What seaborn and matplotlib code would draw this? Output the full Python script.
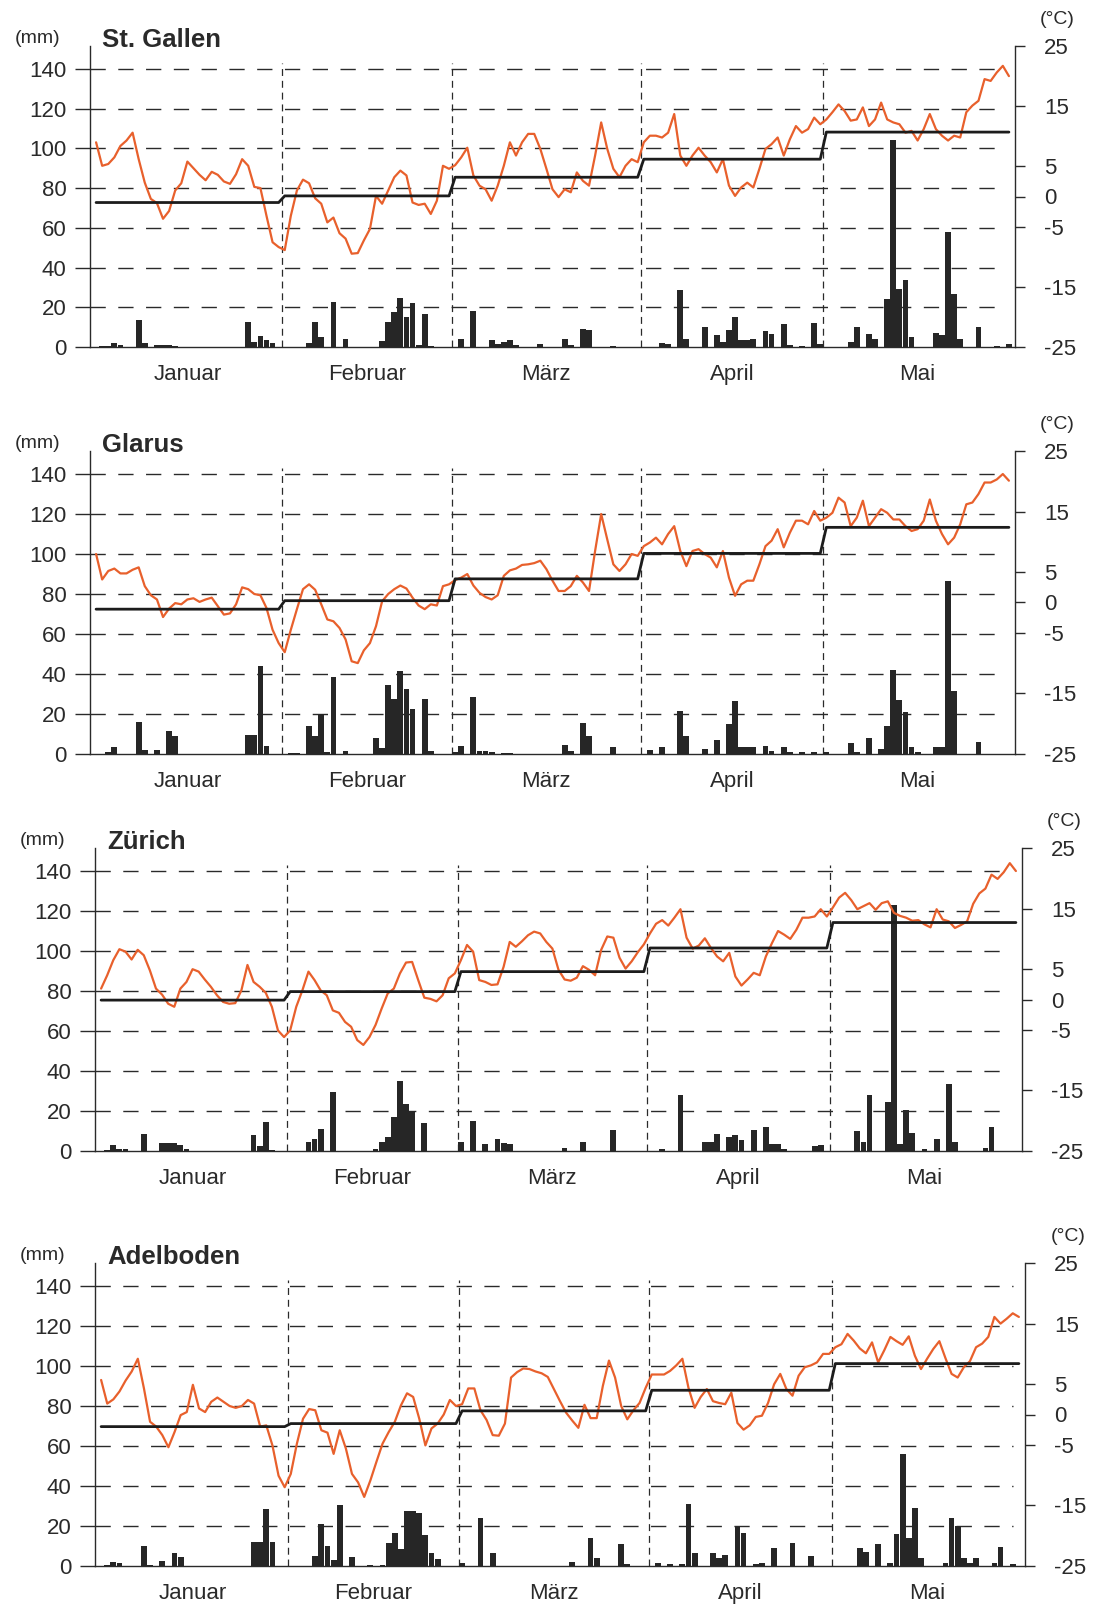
import numpy as np
import matplotlib
matplotlib.use("Agg")
import matplotlib.pyplot as plt
import seaborn as sns

sns.set_style("white")
plt.rcParams["font.family"] = ["Liberation Sans", "DejaVu Sans"]
plt.rcParams["lines.scale_dashes"] = False

months = ["Januar", "Februar", "März", "April", "Mai"]
month_len = [31, 28, 31, 30, 31]
days = np.arange(sum(month_len))

# daily precipitation (mm), 1 Jan - 31 May
prec_stgallen = [0, 0.3, 0.5, 2.0, 0.8, 0, 0, 13.7, 2.0, 0,
                 0.8, 0.8, 0.8, 0.5, 0, 0, 0, 0, 0, 0,
                 0, 0, 0, 0, 0, 12.5, 2.5, 5.5, 3.5, 2.0,
                 0, 0, 0, 0, 0, 2.0, 12.5, 5.0, 0, 22.5,
                 0, 4.0, 0, 0, 0, 0, 0, 3.0, 12.5, 17.5,
                 24.5, 15.0, 22.0, 1.0, 16.7, 0.5, 0, 0, 0, 0,
                 4.0, 0, 18.0, 0, 0, 3.3, 1.5, 2.5, 3.3, 1.0,
                 0, 0, 0, 1.5, 0, 0, 0, 4.0, 1.0, 0,
                 9.0, 8.5, 0, 0, 0, 0.3, 0, 0, 0, 0,
                 0, 0, 0, 2.0, 1.5, 0, 28.5, 4.0, 0, 0,
                 10.0, 0, 6.0, 2.5, 8.5, 15.0, 3.5, 3.5, 4.0, 0,
                 8.0, 6.5, 0, 11.5, 0.8, 0, 0.3, 0, 12.0, 1.5,
                 0, 0, 0, 0, 2.5, 10.3, 0, 6.3, 3.8, 0,
                 24.0, 104.0, 29.0, 33.7, 5.0, 0, 0, 0, 7.0, 6.0,
                 58.0, 26.7, 4.0, 0, 0, 10.0, 0, 0, 0.3, 0,
                 1.3]
prec_glarus = [0, 0, 1.2, 3.7, 0, 0, 0, 16.0, 2.0, 0,
               2.0, 0, 11.7, 9.0, 0, 0, 0, 0, 0, 0,
               0, 0, 0, 0, 0, 9.5, 9.5, 44.0, 4.0, 0,
               0, 0, 0.3, 0.3, 0, 14.0, 9.0, 20.0, 1.0, 38.5,
               0, 1.7, 0, 0, 0, 0, 8.0, 3.0, 34.5, 27.5,
               41.7, 32.3, 22.5, 0, 27.3, 1.7, 0, 0, 0, 1.2,
               4.0, 0, 28.7, 1.7, 1.5, 1.0, 0, 0.5, 0.5, 0,
               0, 0, 0, 0, 0, 0, 0, 4.7, 1.3, 0,
               15.3, 9.2, 0, 0, 0, 3.3, 0, 0, 0, 0,
               0, 2.0, 0, 3.3, 0, 0, 21.3, 9.2, 0, 0,
               2.5, 0, 7.0, 0, 15.0, 26.3, 3.7, 3.7, 3.7, 0,
               4.2, 1.3, 0, 3.3, 0.8, 0, 0.8, 0, 0.8, 0,
               0.8, 0, 0, 0, 5.3, 0.8, 0, 8.0, 0, 2.5,
               13.8, 42.0, 27.0, 20.8, 3.7, 0.8, 0, 0, 3.7, 3.7,
               86.7, 31.7, 0, 0, 0, 5.8, 0, 0, 0, 0,
               0]
prec_zuerich = [0, 0.5, 3.0, 1.0, 1.0, 0, 0, 8.3, 0, 0,
                3.8, 3.8, 3.8, 3.0, 1.0, 0, 0, 0, 0, 0,
                0, 0, 0, 0, 0, 7.8, 2.5, 14.5, 0.5, 0,
                0, 0, 0, 0, 4.5, 6.2, 11.2, 0, 29.5, 0,
                0, 0, 0, 0, 0, 1.2, 4.5, 7.2, 17.2, 35.0,
                23.3, 20.0, 0, 14.2, 0, 0, 0, 0, 0, 4.5,
                0, 15.0, 0, 3.3, 0, 5.8, 4.2, 3.3, 0, 0,
                0, 0, 0, 0, 0, 0, 1.7, 0, 0, 4.5,
                0, 0, 0, 0, 10.7, 0, 0, 0, 0, 0,
                0, 0, 1.2, 0, 0, 27.8, 0, 0, 0, 4.5,
                4.5, 8.7, 0, 7.0, 7.8, 5.3, 0, 10.3, 0, 12.0,
                3.7, 3.7, 1.2, 0, 0, 0, 0, 2.5, 2.8, 0,
                0, 0, 0, 0, 10.0, 4.5, 27.8, 0, 0, 24.5,
                123.0, 3.7, 20.3, 9.0, 0, 1.2, 0, 6.2, 0, 33.7,
                4.5, 0, 0, 0, 0, 1.7, 12.0, 0, 0, 0,
                0]
prec_adelboden = [0, 0.5, 2.2, 1.7, 0, 0, 0, 10.0, 0.5, 0,
                  2.5, 0, 6.7, 4.3, 0, 0, 0, 0, 0, 0,
                  0, 0, 0, 0, 0, 12.2, 12.2, 28.5, 12.2, 0,
                  0, 0, 0, 0, 0, 5.0, 20.8, 10.0, 3.0, 30.5,
                  0, 4.3, 0, 0, 0.5, 0, 0.5, 11.7, 16.3, 8.3,
                  27.7, 27.7, 26.3, 15.5, 6.7, 3.3, 0, 0, 0, 1.3,
                  0, 0, 23.8, 0, 6.3, 0, 0, 0, 0, 0,
                  0, 0, 0, 0, 0, 0, 0, 2.2, 0, 0,
                  14.2, 4.2, 0, 0, 0, 11.2, 0.8, 0, 0, 0,
                  0, 1.7, 0, 1.2, 0, 1.2, 31.2, 6.7, 0, 0,
                  6.7, 4.2, 5.5, 0, 19.5, 16.7, 0, 0.8, 1.7, 0,
                  8.8, 0, 0, 11.7, 0, 0, 5.0, 0, 0, 0,
                  0, 0, 0, 0, 8.8, 7.2, 0, 11.2, 0, 1.7,
                  16.2, 55.8, 14.2, 29.2, 4.2, 0, 0, 0, 1.7, 23.8,
                  20.0, 3.8, 1.7, 4.2, 0, 0, 1.7, 9.5, 0, 1.2,
                  0]

# daily mean temperature (°C)
temp_stgallen = [9.0, 5.1, 5.4, 6.5, 8.4, 9.3, 10.6, 6.2, 2.3, -0.4,
                 -1.1, -3.7, -2.4, 1.0, 2.2, 5.8, 4.7, 3.6, 2.7, 4.1,
                 3.6, 2.5, 2.1, 3.7, 6.2, 5.1, 1.6, 1.4, -3.2, -7.6,
                 -8.4, -8.9, -3.2, 1.0, 2.8, 2.2, -0.3, -1.2, -4.3, -3.5,
                 -6.1, -7.0, -9.5, -9.4, -7.3, -5.4, 0.1, -1.2, 1.0, 3.2,
                 4.3, 3.5, -1.0, -1.4, -1.2, -2.9, -0.7, 5.1, 4.6, 5.2,
                 6.5, 8.1, 3.5, 1.8, 1.2, -0.7, 1.8, 5.1, 9.0, 6.8,
                 9.0, 10.4, 10.4, 7.9, 4.6, 1.2, -0.1, 1.2, 0.7, 4.0,
                 2.6, 1.8, 6.8, 12.3, 7.9, 4.6, 3.2, 5.1, 6.2, 5.7,
                 9.0, 10.1, 10.1, 9.8, 10.6, 13.7, 6.8, 5.1, 6.8, 8.1,
                 6.8, 5.7, 4.0, 6.2, 1.8, 0.1, 1.5, 2.3, 1.5, 4.6,
                 7.9, 8.7, 9.8, 6.8, 9.5, 11.7, 10.6, 11.2, 13.1, 12.0,
                 12.8, 14.0, 15.3, 14.2, 12.6, 12.8, 14.8, 11.7, 12.8, 15.6,
                 12.8, 12.3, 12.0, 10.6, 10.9, 9.3, 11.2, 13.7, 11.2, 10.1,
                 9.3, 10.1, 9.8, 14.0, 15.1, 15.9, 19.5, 19.2, 20.6, 21.7,
                 20.0]
temp_glarus = [8.0, 3.8, 5.2, 5.6, 4.8, 4.8, 5.4, 5.8, 2.7, 1.2,
               0.5, -2.4, -1.0, -0.1, -0.3, 0.5, 0.7, 0.1, 0.5, 0.8,
               -0.6, -2.0, -1.8, -0.3, 2.5, 2.2, 1.4, 1.2, -0.9, -4.5,
               -6.7, -8.2, -4.5, -1.1, 2.2, 3.0, 2.1, -0.3, -2.8, -3.1,
               -4.2, -6.1, -9.7, -10.0, -7.9, -6.7, -3.9, 0.2, 1.4, 2.2,
               2.8, 2.3, 0.8, -0.5, -1.1, -0.3, -0.5, 2.7, 3.0, 3.7,
               4.1, 4.7, 2.8, 1.6, 0.9, 0.5, 1.2, 4.4, 5.3, 5.6,
               6.2, 6.3, 6.5, 6.9, 5.5, 3.6, 1.9, 1.9, 2.7, 4.4,
               3.3, 1.9, 8.5, 14.6, 10.4, 6.3, 5.2, 6.3, 8.0, 7.7,
               9.3, 9.9, 10.7, 9.6, 11.3, 12.6, 8.5, 6.0, 8.5, 8.8,
               8.0, 7.4, 5.8, 8.5, 4.1, 1.1, 3.0, 3.6, 3.6, 6.3,
               9.3, 10.2, 12.1, 9.1, 11.5, 13.5, 13.5, 12.9, 15.1, 13.5,
               14.0, 14.8, 17.3, 16.5, 12.6, 14.0, 16.8, 12.6, 14.0, 15.4,
               14.8, 13.7, 13.7, 12.6, 11.8, 12.1, 13.5, 17.0, 13.5, 11.3,
               9.6, 10.7, 12.9, 16.2, 16.5, 17.9, 19.8, 19.8, 20.3, 21.2,
               20.1]
temp_zuerich = [1.8, 4.0, 6.5, 8.3, 7.9, 6.6, 8.2, 7.3, 4.8, 1.8,
                0.8, -0.7, -1.2, 1.8, 2.9, 5.0, 4.6, 3.3, 2.1, 0.7,
                -0.4, -0.7, -0.6, 1.5, 5.7, 2.9, 2.1, 1.1, -1.2, -5.1,
                -6.2, -5.1, -1.2, 1.5, 4.6, 3.2, 1.5, 0.7, -1.8, -2.2,
                -3.7, -4.5, -6.7, -7.5, -6.2, -4.2, -1.5, 1.0, 1.8, 4.3,
                6.1, 6.2, 3.2, 0.3, 0.1, -0.3, 0.7, 3.5, 4.3, 6.5,
                9.0, 7.9, 3.2, 2.9, 2.4, 2.5, 5.4, 9.5, 8.7, 9.6,
                10.6, 11.2, 10.9, 9.5, 8.4, 4.9, 3.3, 3.1, 3.6, 5.5,
                4.9, 4.0, 8.2, 10.4, 10.2, 6.9, 5.1, 6.3, 7.8, 9.1,
                10.9, 12.5, 13.1, 12.2, 13.5, 14.9, 10.2, 8.4, 8.9, 10.1,
                8.5, 7.1, 6.3, 7.7, 3.8, 2.3, 3.3, 4.4, 4.0, 7.1,
                9.3, 11.3, 10.7, 10.0, 11.5, 13.5, 13.5, 13.7, 14.9, 13.7,
                15.2, 16.8, 17.6, 16.4, 14.9, 15.4, 15.9, 14.8, 15.9, 16.2,
                14.3, 13.8, 13.5, 13.0, 13.1, 12.4, 11.9, 14.9, 13.2, 12.9,
                11.8, 12.3, 12.9, 15.8, 17.5, 18.3, 20.6, 19.9, 21.0, 22.5,
                21.2]
temp_adelboden = [5.7, 1.8, 2.5, 3.8, 5.6, 7.1, 9.2, 4.3, -1.2, -2.0,
                  -3.4, -5.4, -2.9, -0.1, 0.4, 4.9, 1.0, 0.4, 2.1, 2.8,
                  2.1, 1.4, 1.1, 1.4, 2.4, 1.8, -2.0, -1.8, -5.1, -10.1,
                  -12.0, -9.8, -4.8, -0.7, 0.9, 0.7, -2.6, -3.0, -6.5, -2.6,
                  -5.6, -9.8, -11.2, -13.6, -10.9, -7.8, -4.8, -2.9, -1.2, 1.5,
                  3.5, 2.9, -0.7, -5.1, -2.3, -1.5, 0.0, 2.4, 1.4, 1.7,
                  4.3, 4.3, 0.7, -0.9, -3.4, -3.5, -1.5, 6.1, 7.0, 7.6,
                  7.5, 7.1, 6.8, 6.2, 4.2, 2.2, 0.3, -1.0, -2.2, 1.6,
                  -0.6, -0.6, 4.7, 8.9, 6.1, 1.4, -0.8, 0.7, 1.9, 4.4,
                  6.6, 6.6, 6.6, 7.2, 8.1, 9.2, 4.4, 1.1, 2.9, 4.2,
                  2.2, 1.9, 1.7, 3.6, -1.4, -2.5, -1.8, -0.4, -0.2, 1.9,
                  5.0, 6.7, 4.2, 3.1, 6.4, 7.8, 8.1, 8.6, 10.0, 10.0,
                  11.1, 11.6, 13.3, 12.2, 10.9, 10.1, 11.9, 8.6, 10.6, 12.8,
                  12.1, 11.5, 12.9, 9.7, 7.5, 9.2, 10.8, 12.1, 9.3, 6.7,
                  6.1, 7.8, 8.8, 11.1, 11.7, 12.8, 16.1, 15.0, 15.8, 16.7,
                  16.1]

# monthly norm temperature (°C), Jan - May
norm_stgallen = [-1.0, 0.1, 3.2, 6.2, 10.7]
norm_glarus = [-1.1, 0.3, 3.9, 8.1, 12.4]
norm_zuerich = [-0.1, 1.3, 4.6, 8.5, 12.7]
norm_adelboden = [-2.0, -1.5, 0.6, 4.0, 8.4]

stations = ["St. Gallen", "Glarus", "Zürich", "Adelboden"]

ink = "#2a2a2a"
orange = "#e8602c"
W, H = 1095, 1607
# panel boxes in pixels: left, right, top, bottom
boxes = [(90, 1015, 46, 347), (90, 1015, 451, 754),
         (95, 1022, 848, 1151), (95, 1025, 1263, 1566)]

fig = plt.figure(figsize=(W / 100, H / 100), dpi=100)

month_start = np.cumsum([0] + month_len[:-1])
month_mid = month_start + np.array(month_len) / 2 - 0.5
bounds = np.cumsum(month_len)[:-1] - 0.5

panels = zip(stations, boxes,
             [prec_stgallen, prec_glarus, prec_zuerich, prec_adelboden],
             [temp_stgallen, temp_glarus, temp_zuerich, temp_adelboden],
             [norm_stgallen, norm_glarus, norm_zuerich, norm_adelboden])

for name, (l, r, t, b), prec, temp, norm in panels:
    ax = fig.add_axes([l / W, 1 - b / H, (r - l) / W, (b - t) / H])

    for y in range(20, 141, 20):
        ax.plot([-1, 149], [y, y], color=ink, lw=1.0, ls=(0, (11, 9)), zorder=0)
    for x in bounds:
        ax.plot([x, x], [0, 143], color=ink, lw=0.9, ls=(0, (5, 3.5)), zorder=1)

    sns.barplot(x=days, y=prec, native_scale=True, color="#262626",
                width=0.95, errorbar=None, ax=ax, zorder=2, linewidth=0,
                saturation=1)

    ax.set_ylim(0, 151.5)
    ax.set_yticks(range(0, 141, 20))
    ax.set_yticklabels([str(v) for v in range(0, 141, 20)])
    ax.set_xlim(-1, 151)
    ax.set_xticks(np.arange(-1, 151, 5))
    ax.set_xticklabels([])
    ax.set_xlabel("")
    ax.set_ylabel("")
    ax.tick_params(axis="y", direction="out", length=11, width=1, pad=6,
                   labelsize=16, colors=ink)
    ax.tick_params(axis="x", direction="out", length=6, width=1, colors=ink)
    for s in ["top", "right"]:
        ax.spines[s].set_visible(False)
    for s in ["left", "bottom"]:
        ax.spines[s].set_color(ink)
        ax.spines[s].set_linewidth(1.0)

    ax2 = ax.twinx()
    sns.lineplot(x=days, y=temp, ax=ax2, color=orange, lw=1.6)
    sns.lineplot(x=days, y=np.repeat(norm, month_len), ax=ax2,
                 color="#1c1c1c", lw=2.0)
    ax2.set_ylim(-25, 25)
    rt = [-25, -15, -5, 0, 5, 15, 25]
    ax2.set_yticks(rt)
    ax2.set_yticklabels([str(v) for v in rt])
    ax2.set_ylabel("")
    ax2.tick_params(axis="y", direction="out", length=7, width=1, pad=14,
                    labelsize=16, colors=ink)
    for s in ["top", "left", "bottom"]:
        ax2.spines[s].set_visible(False)
    ax2.spines["right"].set_color(ink)
    ax2.spines["right"].set_linewidth(1.0)
    ax.set_xlim(-1, 151)

    ax.text(0.013, 1.02, name, transform=ax.transAxes, fontsize=18.5,
            fontweight="bold", ha="left", va="center", color=ink)
    ax.text(-0.032, 1.024, "(mm)", transform=ax.transAxes, fontsize=14,
            ha="right", va="center", color=ink)
    ax.text(1.046, 1.088, "(°C)", transform=ax.transAxes, fontsize=14,
            ha="center", va="center", color=ink)
    for m, xm in zip(months, month_mid):
        ax.text(xm, -0.09, m, transform=ax.get_xaxis_transform(),
                fontsize=16, ha="center", va="center", color=ink)

fig.savefig("out.png", dpi=100, facecolor="white")
